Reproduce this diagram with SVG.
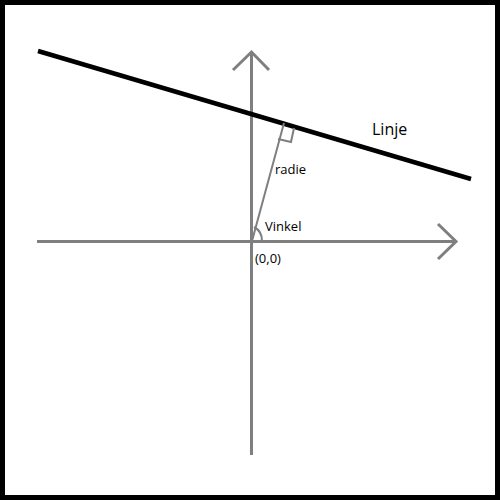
<svg xmlns="http://www.w3.org/2000/svg" width="500" height="500" viewBox="0 0 500 500">
<style>
.axis{stroke:#7f7f7f;stroke-width:3;fill:none;stroke-linecap:butt}
.thin{stroke:#7f7f7f;stroke-width:2;fill:none}
.lbl{font-family:"Open Sans","Noto Sans",sans-serif;fill:#000}
</style>
<rect x="2.5" y="2.5" width="495" height="495" fill="#fff" stroke="#000" stroke-width="5"/>
<g id="connectors">
<line class="axis" x1="251.5" y1="52" x2="251.5" y2="455"/>
<polyline class="axis" points="233,70 251.5,52 269,70"/>
<line class="axis" x1="37" y1="241.5" x2="456" y2="241.5"/>
<polyline class="axis" points="438,224 456,241.5 438,259"/>
<line x1="38" y1="51" x2="471" y2="179" stroke="#000" stroke-width="4.5"/>
<line class="thin" x1="252" y1="241" x2="284" y2="123"/>
<polyline class="thin" points="278,139 291,142 294,128"/>
<path class="thin" d="M254,227 Q262,231 262,241"/>
</g>
<g id="labels">
<text class="lbl" x="372" y="135" font-size="16">Linje</text>
<text class="lbl" x="275" y="174" font-size="13">radie</text>
<text class="lbl" x="265" y="231" font-size="13">Vinkel</text>
<text class="lbl" x="255" y="263" font-size="13">(0,0)</text>
</g>
</svg>
